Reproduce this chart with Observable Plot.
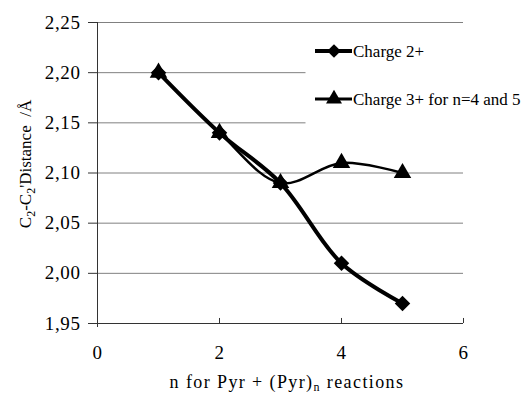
<!DOCTYPE html>
<html><head><meta charset="utf-8">
<script src="https://cdn.jsdelivr.net/npm/d3@7"></script>
<script src="https://cdn.jsdelivr.net/npm/@observablehq/plot@0.6"></script>
<style>
body{margin:0;background:#fff}
#chart svg{font-family:'Liberation Serif','Times New Roman',serif !important;font-size:17px}
#chart svg text{font-family:'Liberation Serif','Times New Roman',serif !important}
</style>
</head><body><div id="chart"></div>
<script>
const nValues = [1, 2, 3, 4, 5];
const charge2 = [2.20, 2.14, 2.09, 2.01, 1.97];
const charge3 = [2.20, 2.14, 2.09, 2.11, 2.10];
const xTicks = [0, 2, 4, 6];
const yTicks = [1.95, 2.00, 2.05, 2.10, 2.15, 2.20, 2.25];
const seriesNames = ["Charge 2+", "Charge 3+ for n=4 and 5"];

const d2 = nValues.map((n, i) => ({n, v: charge2[i]}));
const d3s = nValues.map((n, i) => ({n, v: charge3[i]}));
const fmt = d => d3.format(".2f")(d).replace(".", ",");

const plot = Plot.plot({
  width: 530, height: 396,
  marginLeft: 97, marginRight: 67, marginTop: 22, marginBottom: 73,
  x: {type: "linear", domain: [0, 6], label: null},
  y: {type: "linear", domain: [1.95, 2.25], label: null},
  marks: [
    Plot.ruleY(yTicks.filter(t => t > 1.95), {y: d => d, stroke: "#808080", strokeWidth: 1}),
    Plot.axisY({ticks: yTicks, tickFormat: fmt, tickSize: 9, tickPadding: 8, fontSize: 19, stroke: "#333"}),
    Plot.axisX({ticks: xTicks, tickFormat: d => d, tickSize: 0, tickPadding: 22, fontSize: 19}),
    Plot.ruleX(xTicks.slice(1), {x: d => d, y1: 1.95, y2: 1.955, stroke: "#333", strokeWidth: 1}),
    Plot.ruleX([0], {stroke: "#333", insetBottom: -4}),
    Plot.ruleY([1.95], {stroke: "#333"}),
    Plot.line(d3s, {x: "n", y: "v", curve: "catmull-rom", stroke: "#000", strokeWidth: 2.5}),
    Plot.dot(d3s, {x: "n", y: "v", symbol: "triangle", r: 6.5, fill: "#000", stroke: "none"}),
    Plot.line(d2, {x: "n", y: "v", curve: "catmull-rom", stroke: "#000", strokeWidth: 4}),
    Plot.dot(d2, {x: "n", y: "v", symbol: "diamond2", r: 7, fill: "#000", stroke: "none"})
  ]
});

const svg = d3.select(plot);
document.getElementById("chart").appendChild(plot);
svg.selectAll("[aria-label='y-axis tick label'] text, [aria-label='x-axis tick label'] text")
  .attr("letter-spacing", "0.6px");

// Legend box (covers gridlines like the original)
const lg = svg.append("g").attr("font-size", 17).attr("text-anchor", "start");
lg.append("rect").attr("x", 305.5).attr("y", 30).attr("width", 225).attr("height", 100).attr("fill", "#fff");
const rows = [51, 99];
seriesNames.forEach((name, i) => {
  const y = rows[i];
  lg.append("line").attr("x1", 315).attr("x2", 352).attr("y1", y).attr("y2", y)
    .attr("stroke", "#000").attr("stroke-width", i === 0 ? 4 : 3);
  const sym = d3.symbol(i === 0 ? d3.symbolDiamond2 : d3.symbolTriangle, i === 0 ? 120 : 110)();
  lg.append("path").attr("d", sym).attr("transform", `translate(334,${y})`).attr("fill", "#000");
  lg.append("text").attr("x", 353).attr("y", y).attr("dy", "0.35em").text(name);
});

// Axis titles
const tx = svg.append("text").attr("font-size", 18).attr("letter-spacing", "1.4px")
  .attr("text-anchor", "middle").attr("x", 287).attr("y", 388);
tx.append("tspan").text("n for Pyr + (Pyr)");
tx.append("tspan").attr("font-size", 12).attr("dy", 3).text("n");
tx.append("tspan").attr("dy", -3).text(" reactions");

const ty = svg.append("text").attr("font-size", 17)
  .attr("text-anchor", "middle").attr("transform", "translate(31,164) rotate(-90)");
ty.append("tspan").text("C");
ty.append("tspan").attr("font-size", 12).attr("dy", 4).text("2");
ty.append("tspan").attr("dy", -4).text("-C");
ty.append("tspan").attr("font-size", 12).attr("dy", 4).text("2");
ty.append("tspan").attr("dy", -4).text("'Distance  /Å");
</script>
</body></html>
